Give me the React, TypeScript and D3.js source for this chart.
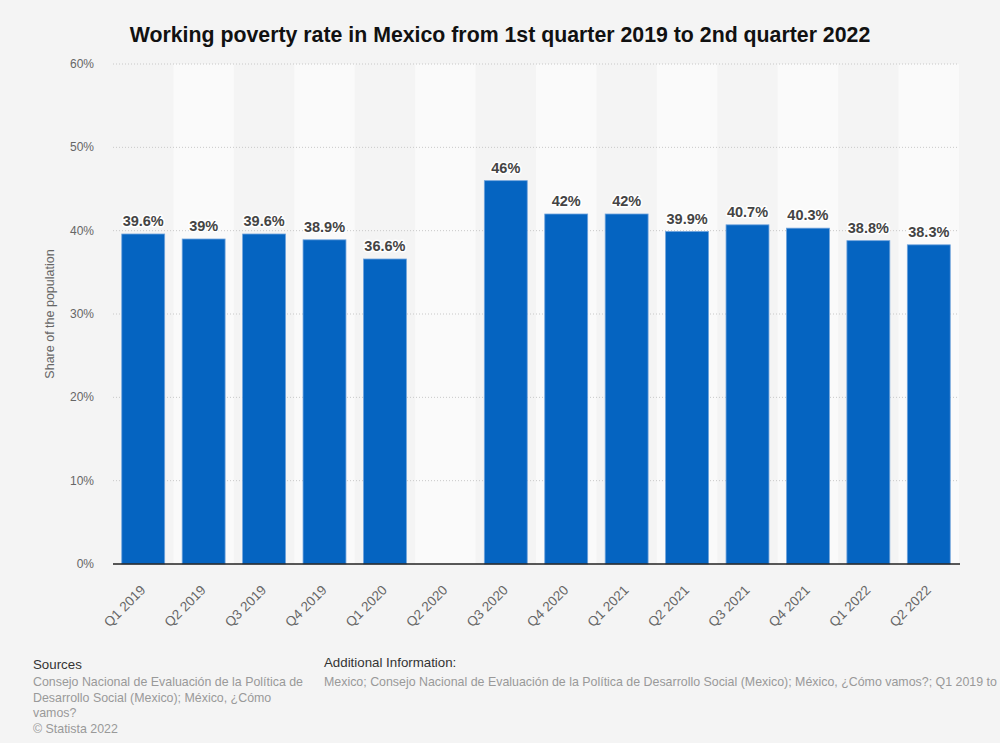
import React, { useEffect } from "react";
import * as d3 from "d3";

const categories = ["Q1 2019","Q2 2019","Q3 2019","Q4 2019","Q1 2020","Q2 2020","Q3 2020","Q4 2020","Q1 2021","Q2 2021","Q3 2021","Q4 2021","Q1 2022","Q2 2022"];
const values: (number | null)[] = [39.6, 39, 39.6, 38.9, 36.6, null, 46, 42, 42, 39.9, 40.7, 40.3, 38.8, 38.3];
const yTicks = [0, 10, 20, 30, 40, 50, 60];
const title = "Working poverty rate in Mexico from 1st quarter 2019 to 2nd quarter 2022";
const sourcesLines = ["Consejo Nacional de Evaluación de la Política de", "Desarrollo Social (Mexico); México, ¿Cómo", "vamos?"];
const additionalInfo = "Mexico; Consejo Nacional de Evaluación de la Política de Desarrollo Social (Mexico); México, ¿Cómo vamos?; Q1 2019 to Q2 2022";

const W = 1000, H = 743;
const left = 113, right = 959, top = 64, bottom = 564;
const FONT = "'Liberation Sans', Arial, Helvetica, sans-serif";

export default function App() {
  useEffect(() => { document.body.style.margin = "0"; document.body.style.background = "#f4f4f4"; }, []);
  const x = d3.scaleBand<string>().domain(categories).range([left, right]).paddingInner(0.29).paddingOuter(0.145);
  const xs = d3.scaleBand<string>().domain(categories).range([left, right]).padding(0);
  const y = d3.scaleLinear().domain([0, 60]).range([bottom, top]);
  const fmt = (v: number) => `${d3.format("~")(v)}%`;
  return (
    <svg width={W} height={H} style={{ display: "block", fontFamily: FONT }}>
      <rect x={0} y={0} width={W} height={H} fill="#f4f4f4" />
      {categories.map((c, i) => i % 2 === 1 ? (
        <rect key={"s" + c} x={xs(c)} y={top} width={xs.bandwidth()} height={bottom - top} fill="#fafafa" />
      ) : null)}
      {yTicks.filter(t => t > 0).map(t => (
        <line key={"g" + t} x1={left} x2={right} y1={y(t)} y2={y(t)} stroke="#c8c8c8" strokeWidth={1} strokeDasharray="1,2" />
      ))}
      {yTicks.map(t => (
        <text key={"t" + t} x={94} y={y(t) + 4} textAnchor="end" fontSize={12} fill="#666">{t}%</text>
      ))}
      <text transform={`translate(54,${(top + bottom) / 2}) rotate(-90)`} textAnchor="middle" fontSize={12.5} fill="#666">Share of the population</text>
      {categories.map((c, i) => {
        const v = values[i];
        if (v == null) return null;
        return (
          <g key={"b" + c}>
            <rect x={x(c)} y={y(v)} width={x.bandwidth()} height={bottom - y(v)} fill="#0564c1" stroke="#6fa3dc" strokeWidth={0.8} />
            <text x={x(c)! + x.bandwidth() / 2} y={y(v) - 8} textAnchor="middle" fontSize={14.5} fontWeight="bold" fill="#444" stroke="#fff" strokeWidth={3} paintOrder="stroke" strokeLinejoin="round">{fmt(v)}</text>
          </g>
        );
      })}
      <line x1={left} x2={right + 1} y1={bottom} y2={bottom} stroke="#222" strokeWidth={1.5} />
      {categories.map(c => (
        <text key={"x" + c} transform={`translate(${xs(c)! + xs.bandwidth() / 2 + 3},${bottom + 27}) rotate(-45)`} textAnchor="end" fontSize={13.5} fill="#666">{c}</text>
      ))}
      <text x={500} y={42} textAnchor="middle" fontSize={21.3} fontWeight="bold" fill="#111">{title}</text>
      <text x={33} y={669} fontSize={13.3} fill="#333">Sources</text>
      {sourcesLines.map((l, i) => (
        <text key={"src" + i} x={33} y={686 + i * 15.5} fontSize={12.4} fill="#999">{l}</text>
      ))}
      <text x={33} y={733} fontSize={12.4} fill="#999">© Statista 2022</text>
      <text x={324} y={667} fontSize={13.3} fill="#333">Additional Information:</text>
      <text x={324} y={686} fontSize={12.4} fill="#999">{additionalInfo}</text>
    </svg>
  );
}
